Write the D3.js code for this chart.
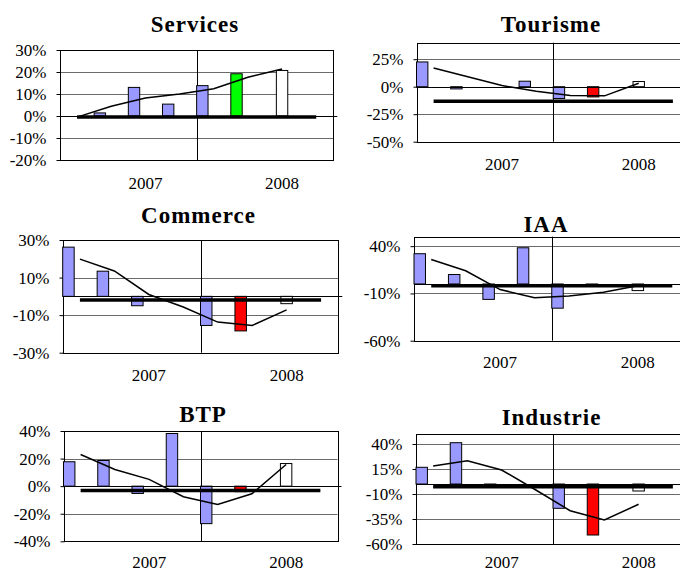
<!DOCTYPE html>
<html>
<head>
<meta charset="utf-8">
<script src="https://cdn.jsdelivr.net/npm/d3@7"></script>
<style>
  html, body { margin: 0; padding: 0; background: #fff; }
  svg { display: block; }
  svg text { font-family: "Liberation Serif", "Times New Roman", Times, serif; }
</style>
</head>
<body>
<svg id="chart" width="680" height="572"></svg>
<script>
// ---- DATA (values in %) ----
const categories = ["2007 T1","2007 T2","2007 T3","2007 T4","2008 T1","2008 T2","2008 T3","2008 T4"];
const yearLabels = ["", "", "2007", "", "", "", "2008", ""];
const sectors = ["Services", "Tourisme", "Commerce", "IAA", "BTP", "Industrie"];

const servicesBars  = [null, 1.4, 13, 5.4, 13.8, 19.2, null, null];
const servicesLast  = [null, null, null, null, null, null, 20.7, null];
const servicesTrend = [-0.5, 4.4, 8.2, 10, 12.4, 17.6, 21.4, null];
const servicesMean  = -0.5;
const servicesTicks = [-20, -10, 0, 10, 20, 30];
const servicesDomain = [-20, 30];

const tourismeBars  = [22.5, -2, null, 5, -10.7, -9.3, null, null];
const tourismeLast  = [null, null, null, null, null, null, 4.7, null];
const tourismeTrend = [17, 9, 1, -4.2, -7.9, -8.3, 3.2, null];
const tourismeMean  = -13.2;
const tourismeTicks = [-50, -25, 0, 25];
const tourismeDomain = [-50, 40];

const commerceBars  = [26.2, 13.4, -5, null, -15.5, -18.4, null, null];
const commerceLast  = [null, null, null, null, null, null, -3.9, null];
const commerceTrend = [19.8, 13.5, 1, -5.7, -13.7, -15.5, -7.2, null];
const commerceMean  = -1.9;
const commerceTicks = [-30, -10, 10, 30];
const commerceDomain = [-30, 30];

const iaaBars  = [32, 10, -16.3, 38.3, -25.6, -2, null, null];
const iaaLast  = [null, null, null, null, null, null, -7, null];
const iaaTrend = [25.9, 14, -5.9, -14.5, -12.8, -8.7, -1.8, null];
const iaaMean  = -2;
const iaaTicks = [-60, -10, 40];
const iaaDomain = [-60, 50];

const btpBars  = [17.7, 18.6, -5.3, 38.2, -27.2, -4, null, null];
const btpLast  = [null, null, null, null, null, null, 16.4, null];
const btpTrend = [23, 12.1, 4.9, -7.7, -13.3, -5.5, 15.7, null];
const btpMean  = -3.1;
const btpTicks = [-40, -20, 0, 20, 40];
const btpDomain = [-40, 40];

const industrieBars  = [16.7, 41.3, -1.5, null, -24.3, -51, null, null];
const industrieLast  = [null, null, null, null, null, null, -7, null];
const industrieTrend = [18, 23.3, 14, -6, -26.7, -36, -20.3, null];
const industrieMean  = -2.8;
const industrieTicks = [-60, -35, -10, 15, 40];
const industrieDomain = [-60, 50];

// index of the highlighted (latest) bar and its colour per sector
const highlightIndex = 5;
const highlightColors = ["#00ff00", "#ff0000", "#ff0000", "#ff0000", "#ff0000", "#ff0000"];

// ---- LAYOUT (positions only) ----
const layout = [
  {x0: 60,    x1: 333.3, y0: 50,    y1: 160,   tx: 195,   ty: 31.5, ly: 189},
  {x0: 416.5, x1: 690,   y0: 42.7,  y1: 141.7, tx: 551,   ty: 32,   ly: 170},
  {x0: 62.7,  x1: 338.3, y0: 240,   y1: 352.7, tx: 198.5, ty: 223.3, ly: 381},
  {x0: 414,   x1: 689.5, y0: 236.7, y1: 340.7, tx: 546,   ty: 232.3, ly: 368},
  {x0: 63.5,  x1: 337.5, y0: 431,   y1: 541.3, tx: 203,   ty: 421.7, ly: 568},
  {x0: 416,   x1: 690,   y0: 434,   y1: 544,   tx: 551.5, ty: 425,   ly: 568}
];

const seriesData = [
  {bars: servicesBars,  last: servicesLast,  trend: servicesTrend,  mean: servicesMean,  ticks: servicesTicks,  domain: servicesDomain},
  {bars: tourismeBars,  last: tourismeLast,  trend: tourismeTrend,  mean: tourismeMean,  ticks: tourismeTicks,  domain: tourismeDomain},
  {bars: commerceBars,  last: commerceLast,  trend: commerceTrend,  mean: commerceMean,  ticks: commerceTicks,  domain: commerceDomain},
  {bars: iaaBars,       last: iaaLast,       trend: iaaTrend,       mean: iaaMean,       ticks: iaaTicks,       domain: iaaDomain},
  {bars: btpBars,       last: btpLast,       trend: btpTrend,       mean: btpMean,       ticks: btpTicks,       domain: btpDomain},
  {bars: industrieBars, last: industrieLast, trend: industrieTrend, mean: industrieMean, ticks: industrieTicks, domain: industrieDomain}
];

const svg = d3.select("#chart");
const serif = '"Liberation Serif", "Times New Roman", Times, serif';

sectors.forEach((name, k) => {
  const L = layout[k];
  const D = seriesData[k];
  const g = svg.append("g");

  const x = d3.scaleBand().domain(categories).range([L.x0, L.x1]).padding(0);
  const y = d3.scaleLinear().domain(D.domain).range([L.y1, L.y0]);
  const bw = x.bandwidth() / 3;
  const cx = c => x(c) + x.bandwidth() / 2;

  // gridlines
  g.append("g").selectAll("line").data(D.ticks).join("line")
    .attr("x1", L.x0).attr("x2", L.x1)
    .attr("y1", d => Math.round(y(d)) + 0.5).attr("y2", d => Math.round(y(d)) + 0.5)
    .attr("stroke", "#6a6a6a").attr("stroke-width", 1);

  // y axis
  const yAxis = d3.axisLeft(y).tickValues(D.ticks).tickSize(4).tickPadding(10)
    .tickFormat(d => d + "%");
  const ya = g.append("g").attr("transform", `translate(${Math.round(L.x0) + 0.5},0)`).call(yAxis);
  ya.attr("font-family", null);
  ya.select(".domain").remove();
  ya.selectAll(".tick line").attr("stroke", "#000");
  ya.selectAll("text").style("font-family", serif).attr("font-size", 17).attr("fill", "#000");

  // plot frame
  g.append("rect")
    .attr("x", Math.round(L.x0) + 0.5).attr("y", Math.round(L.y0) + 0.5)
    .attr("width", Math.round(L.x1) - Math.round(L.x0)).attr("height", Math.round(L.y1) - Math.round(L.y0))
    .attr("fill", "none").attr("stroke", "#000").attr("stroke-width", 1);

  // year separator
  const sepX = Math.round(x(categories[4])) + 0.5;
  g.append("line").attr("x1", sepX).attr("x2", sepX).attr("y1", L.y0).attr("y2", L.y1)
    .attr("stroke", "#000").attr("stroke-width", 1);

  // bars (main series)
  g.append("g").selectAll("rect")
    .data(categories.map((c, i) => ({c, i, v: D.bars[i]})).filter(d => d.v != null))
    .join("rect")
    .attr("x", d => cx(d.c) - 1.5 * bw)
    .attr("width", bw)
    .attr("y", d => y(Math.max(0, d.v)))
    .attr("height", d => Math.abs(y(d.v) - y(0)))
    .attr("fill", d => d.i === highlightIndex ? highlightColors[k] : "#9999ff")
    .attr("stroke", "#000").attr("stroke-width", 1);

  // latest (white) bar
  g.append("g").selectAll("rect")
    .data(categories.map((c, i) => ({c, i, v: D.last[i]})).filter(d => d.v != null))
    .join("rect")
    .attr("x", d => cx(d.c) - 0.5 * bw)
    .attr("width", bw)
    .attr("y", d => y(Math.max(0, d.v)))
    .attr("height", d => Math.abs(y(d.v) - y(0)))
    .attr("fill", "#ffffff")
    .attr("stroke", "#000").attr("stroke-width", 1);

  // zero (category) axis
  const y0 = Math.round(y(0)) + 0.5;
  g.append("line").attr("x1", L.x0).attr("x2", L.x1 + 4).attr("y1", y0).attr("y2", y0)
    .attr("stroke", "#000").attr("stroke-width", 1);

  // mean thick line
  g.append("line")
    .attr("x1", cx(categories[0])).attr("x2", cx(categories[7]))
    .attr("y1", y(D.mean)).attr("y2", y(D.mean))
    .attr("stroke", "#000").attr("stroke-width", 3.5);

  // trend line
  const line = d3.line().defined(d => d.v != null).x(d => cx(d.c)).y(d => y(d.v));
  g.append("path")
    .datum(categories.map((c, i) => ({c, v: D.trend[i]})))
    .attr("d", line).attr("fill", "none").attr("stroke", "#000").attr("stroke-width", 1.5);

  // bottom year labels (band-scale axis, labels placed by baseline)
  const xAxis = d3.axisBottom(x).tickSize(0).tickPadding(0).tickFormat((d, i) => yearLabels[i]);
  const xa = g.append("g").attr("transform", `translate(0,${L.ly})`).call(xAxis);
  xa.attr("font-family", null);
  xa.select(".domain").remove();
  xa.selectAll("text").attr("dy", null).attr("y", 0)
    .style("font-family", serif).attr("font-size", 17).attr("fill", "#000");

  // title
  g.append("text").attr("x", L.tx).attr("y", L.ty)
    .attr("text-anchor", "middle").style("font-family", serif)
    .attr("font-weight", "bold").attr("font-size", 23).attr("letter-spacing", 1)
    .text(name);
});
</script>
</body>
</html>
